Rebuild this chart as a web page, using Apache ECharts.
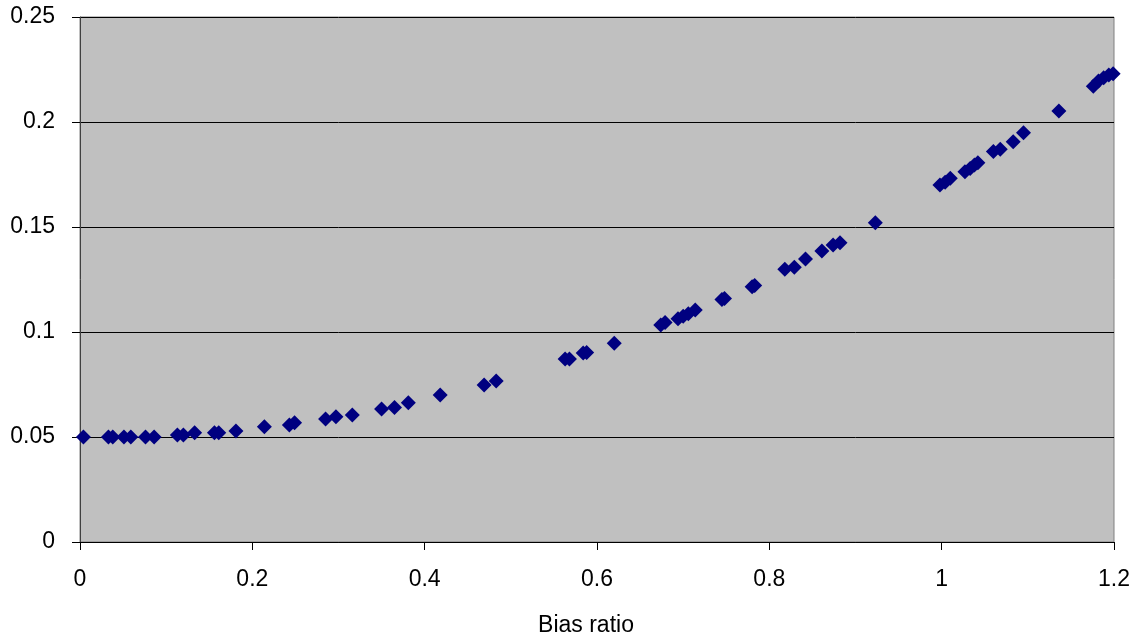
<!DOCTYPE html>
<html>
<head>
<meta charset="utf-8">
<script src="https://cdn.jsdelivr.net/npm/echarts@6/dist/echarts.min.js"></script>
<style>
html,body{margin:0;padding:0;background:#fff;}
#chart{width:1138px;height:642px;}
</style>
</head>
<body>
<div id="chart"></div>
<script>
const biasRatio = [0.004,0.033,0.038,0.051,0.059,0.076,0.086,0.113,0.120,0.133,0.156,0.161,0.181,0.214,0.243,0.249,0.285,0.297,0.316,0.350,0.365,0.381,0.418,0.469,0.483,0.563,0.568,0.584,0.588,0.620,0.674,0.679,0.694,0.700,0.706,0.714,0.745,0.748,0.780,0.783,0.818,0.829,0.842,0.861,0.874,0.882,0.923,0.998,1.004,1.010,1.027,1.033,1.038,1.042,1.060,1.068,1.083,1.095,1.136,1.176,1.182,1.188,1.194,1.199];
const values = [0.0500,0.0500,0.0500,0.0500,0.0500,0.0500,0.0500,0.0510,0.0510,0.0520,0.0520,0.0520,0.0529,0.0549,0.0557,0.0568,0.0586,0.0597,0.0605,0.0633,0.0641,0.0663,0.0700,0.0748,0.0767,0.0871,0.0871,0.0900,0.0902,0.0946,0.1033,0.1045,0.1063,0.1075,0.1087,0.1105,0.1155,0.1160,0.1216,0.1222,0.1299,0.1308,0.1348,0.1386,0.1414,0.1425,0.1520,0.1700,0.1713,0.1732,0.1763,0.1779,0.1795,0.1806,0.1859,0.1870,0.1906,0.1949,0.2052,0.2170,0.2195,0.2211,0.2224,0.2230];
const xAxisTitle = 'Bias ratio';

const points = biasRatio.map((x, i) => [x, values[i]]);
const chart = echarts.init(document.getElementById('chart'));
const font = 'Liberation Sans, Arial, sans-serif';
chart.setOption({
  animation: false,
  grid: {left: 80, right: 24, top: 17, bottom: 100, show: true, backgroundColor: '#C0C0C0', borderColor: '#808080', borderWidth: 1},
  xAxis: {
    type: 'value', min: 0, max: 1.2, interval: 0.2,
    name: xAxisTitle, nameLocation: 'middle', nameGap: 72,
    nameTextStyle: {fontFamily: font, fontSize: 23, color: '#000', padding: [0, 22, 0, 0]},
    axisLine: {show: true, onZero: false, lineStyle: {color: '#000', width: 1}},
    axisTick: {show: true, inside: false, length: 8, lineStyle: {color: '#000'}},
    axisLabel: {fontFamily: font, fontSize: 23, color: '#000', margin: 26},
    splitLine: {show: false}
  },
  yAxis: {
    type: 'value', min: 0, max: 0.25, interval: 0.05,
    axisLine: {show: true, lineStyle: {color: '#404040', width: 1}},
    axisTick: {show: true, inside: false, length: 8, lineStyle: {color: '#000'}},
    axisLabel: {fontFamily: font, fontSize: 23, color: '#000', margin: 25},
    splitLine: {show: true, lineStyle: {color: '#000', width: 1}}
  },
  series: [{
    type: 'scatter', data: points, symbol: 'diamond', symbolSize: 15,
    itemStyle: {color: '#000080', opacity: 1}
  }]
});
</script>
</body>
</html>
